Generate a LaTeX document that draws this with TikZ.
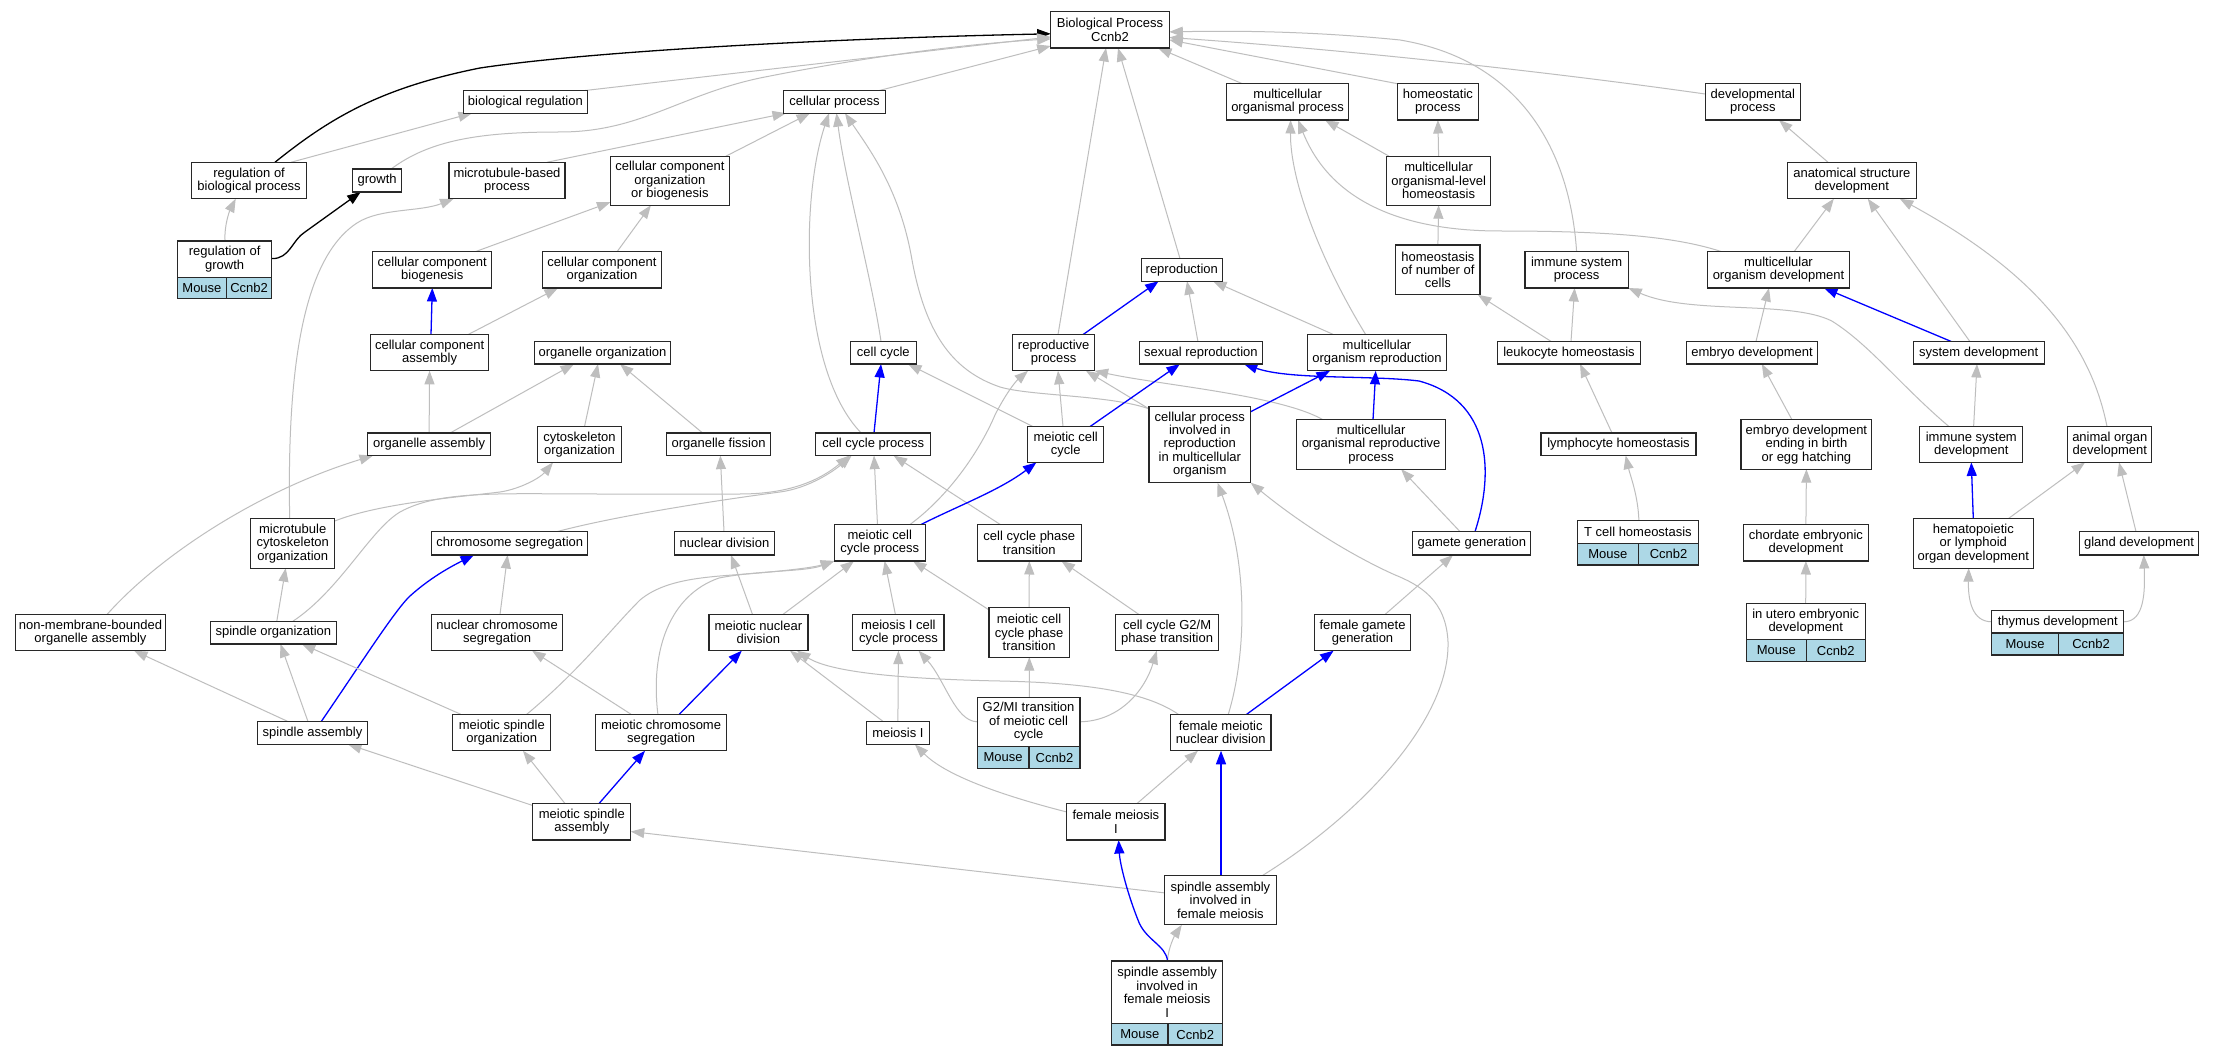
\documentclass[tikz,border=0pt]{standalone}
\usepackage{fontspec}
\setmainfont{Liberation Sans}
\usetikzlibrary{arrows.meta}
\definecolor{edgegray}{RGB}{190,190,190}
\definecolor{cellblue}{RGB}{173,216,230}
\definecolor{boxline}{RGB}{40,40,40}
\newcommand\gofont{\fontsize{13pt}{13.4pt}\selectfont}
\pgfdeclarelayer{bglayer}
\pgfdeclarelayer{edgelayer}
\pgfsetlayers{bglayer,edgelayer,main}
\tikzset{
  gobox/.style={draw=boxline, line width=1.2pt, fill=white, inner sep=0pt, outer sep=0pt, align=center, font=\gofont, text=black},
  gocell/.style={gobox, fill=cellblue},
  ge/.style={draw=edgegray, line width=1pt, -{Triangle[length=13.5pt,width=10pt]}},
  be/.style={ge, draw=blue, line width=1.3pt},
  ke/.style={ge, draw=black, line width=1.3pt},
}
\begin{document}
\begin{tikzpicture}[x=1pt,y=-1pt]
\begin{pgfonlayer}{bglayer}
\fill[white] (0,0) rectangle (2213,1056);
\end{pgfonlayer}
\useasboundingbox (0,0) rectangle (2213,1056);

% ---------- nodes ----------
\node[gobox, minimum width=118.6pt, minimum height=36.2pt] (bp) at (1110,29.9) {Biological Process\\Ccnb2};
\node[gobox, minimum width=124.3pt, minimum height=22.6pt] (bioreg) at (525.4,101.9) {biological regulation};
\node[gobox, minimum width=101.8pt, minimum height=22.6pt] (cellproc) at (834.5,101.9) {cellular process};
\node[gobox, minimum width=122.5pt, minimum height=36.2pt] (mop) at (1287.6,101.9) {multicellular\\organismal process};
\node[gobox, minimum width=81.5pt, minimum height=36.2pt] (homeo) at (1437.9,101.9) {homeostatic\\process};
\node[gobox, minimum width=95.3pt, minimum height=36.2pt] (devproc) at (1752.8,101.9) {developmental\\process};
\node[gobox, minimum width=114.6pt, minimum height=36.5pt] (regbio) at (249.1,180.5) {regulation of\\biological process};
\node[gobox, minimum width=48.6pt, minimum height=23pt] (growth) at (377.1,180.5) {growth};
\node[gobox, minimum width=116pt, minimum height=36.5pt] (mtbp) at (507,180.5) {microtubule-based\\process};
\node[gobox, minimum width=118.9pt, minimum height=49pt] (ccob) at (669.9,180.7) {cellular component\\organization\\or biogenesis};
\node[gobox, minimum width=104.3pt, minimum height=49pt] (molh) at (1438.6,180.7) {multicellular\\organismal-level\\homeostasis};
\node[gobox, minimum width=128.6pt, minimum height=36.5pt] (asd) at (1851.8,180.5) {anatomical structure\\development};
\node[gobox, minimum width=118.9pt, minimum height=36.2pt] (ccbio) at (432.3,269.9) {cellular component\\biogenesis};
\node[gobox, minimum width=118.9pt, minimum height=36.2pt] (ccorg) at (602,269.9) {cellular component\\organization};
\node[gobox, minimum width=81.4pt, minimum height=22.6pt] (reprod) at (1181.8,269.9) {reproduction};
\node[gobox, minimum width=84.3pt, minimum height=49.7pt] (hnc) at (1437.9,269.9) {homeostasis\\of number of\\cells};
\node[gobox, minimum width=103.2pt, minimum height=36.2pt] (isp) at (1576.6,269.9) {immune system\\process};
\node[gobox, minimum width=141.5pt, minimum height=36.2pt] (mod) at (1778.5,269.9) {multicellular\\organism development};
\node[gobox, minimum width=118.5pt, minimum height=36.2pt] (ccasm) at (429.6,352.7) {cellular component\\assembly};
\node[gobox, minimum width=136.4pt, minimum height=22.6pt] (orgorg) at (602.5,352.7) {organelle organization};
\node[gobox, minimum width=65.7pt, minimum height=22.6pt] (cellcycle) at (883.3,352.7) {cell cycle};
\node[gobox, minimum width=81.8pt, minimum height=36.2pt] (rproc) at (1053.7,352.7) {reproductive\\process};
\node[gobox, minimum width=123.2pt, minimum height=22.6pt] (sexrep) at (1200.9,352.7) {sexual reproduction};
\node[gobox, minimum width=138.9pt, minimum height=36.2pt] (mor) at (1377,352.7) {multicellular\\organism reproduction};
\node[gobox, minimum width=143.7pt, minimum height=22.6pt] (leukh) at (1569,352.7) {leukocyte homeostasis};
\node[gobox, minimum width=130.8pt, minimum height=22.6pt] (embdev) at (1752,352.7) {embryo development};
\node[gobox, minimum width=131.2pt, minimum height=22.6pt] (sysdev) at (1978.7,352.7) {system development};
\node[gobox, minimum width=122.5pt, minimum height=22.6pt] (orgasm) at (429.1,444.3) {organelle assembly};
\node[gobox, minimum width=84pt, minimum height=35.8pt] (cytoorg) at (579.5,444.5) {cytoskeleton\\organization};
\node[gobox, minimum width=104.3pt, minimum height=22.6pt] (orgfis) at (718.6,444.3) {organelle fission};
\node[gobox, minimum width=115pt, minimum height=22.6pt] (ccp) at (873.2,444.3) {cell cycle process};
\node[gobox, minimum width=75.7pt, minimum height=35.8pt] (mcc) at (1065.7,444.5) {meiotic cell\\cycle};
\node[gobox, minimum width=101.8pt, minimum height=76.4pt] (cpirmo) at (1199.8,444.5) {cellular process\\involved in\\reproduction\\in multicellular\\organism};
\node[gobox, minimum width=148.6pt, minimum height=49.4pt] (morp) at (1371.1,444.5) {multicellular\\organismal reproductive\\process};
\node[gobox, minimum width=155pt, minimum height=22.6pt] (lymphh) at (1618.5,444.3) {lymphocyte homeostasis};
\node[gobox, minimum width=130.9pt, minimum height=49.4pt] (edebeh) at (1806.4,444.5) {embryo development\\ending in birth\\or egg hatching};
\node[gobox, minimum width=102.9pt, minimum height=35.8pt] (isd) at (1971.3,444.5) {immune system\\development};
\node[gobox, minimum width=84pt, minimum height=35.8pt] (aod) at (2109.8,444.5) {animal organ\\development};
\node[gobox, minimum width=83.9pt, minimum height=49.3pt] (mtcyto) at (292.7,543.5) {microtubule\\cytoskeleton\\organization};
\node[gobox, minimum width=156pt, minimum height=23.4pt] (chromseg) at (509.8,543.3) {chromosome segregation};
\node[gobox, minimum width=100.4pt, minimum height=23.4pt] (nucdiv) at (724.5,543.3) {nuclear division};
\node[gobox, minimum width=91.1pt, minimum height=36.2pt] (mccp) at (879.8,542.9) {meiotic cell\\cycle process};
\node[gobox, minimum width=104.3pt, minimum height=36.2pt] (ccpt) at (1029.3,542.9) {cell cycle phase\\transition};
\node[gobox, minimum width=117.9pt, minimum height=23.4pt] (gamgen) at (1471.8,543.3) {gamete generation};
\node[gobox, minimum width=124.4pt, minimum height=36.2pt] (chordate) at (1805.9,542.9) {chordate embryonic\\development};
\node[gobox, minimum width=120.3pt, minimum height=49.3pt] (hema) at (1973.3,543.5) {hematopoietic\\or lymphoid\\organ development};
\node[gobox, minimum width=119.1pt, minimum height=23.4pt] (gland) at (2139,543.3) {gland development};
\node[gobox, minimum width=149.6pt, minimum height=36.2pt] (nmbo) at (90.5,632.6) {non-membrane-bounded\\organelle assembly};
\node[gobox, minimum width=125.4pt, minimum height=22.7pt] (spindleorg) at (273.4,632.6) {spindle organization};
\node[gobox, minimum width=130.7pt, minimum height=36.2pt] (ncs) at (497.1,632.6) {nuclear chromosome\\segregation};
\node[gobox, minimum width=99pt, minimum height=36.2pt] (mnd) at (758.4,632.6) {meiotic nuclear\\division};
\node[gobox, minimum width=91.1pt, minimum height=36.2pt] (micp) at (898.4,632.6) {meiosis I cell\\cycle process};
\node[gobox, minimum width=80.4pt, minimum height=49.3pt] (mccpt) at (1029.1,632.5) {meiotic cell\\cycle phase\\transition};
\node[gobox, minimum width=102.9pt, minimum height=36.2pt] (ccg2m) at (1167.1,632.6) {cell cycle G2/M\\phase transition};
\node[gobox, minimum width=96.4pt, minimum height=36.2pt] (fgg) at (1362.5,632.6) {female gamete\\generation};
\node[gobox, minimum width=110.7pt, minimum height=23pt] (spasm) at (312.5,732.8) {spindle assembly};
\node[gobox, minimum width=97.9pt, minimum height=36.5pt] (msorg) at (501.8,732.5) {meiotic spindle\\organization};
\node[gobox, minimum width=130.7pt, minimum height=36.5pt] (mcs) at (661.1,732.5) {meiotic chromosome\\segregation};
\node[gobox, minimum width=62.9pt, minimum height=23pt] (meiosisI) at (897.9,732.8) {meiosis I};
\node[gobox, minimum width=100.7pt, minimum height=36.5pt] (fmnd) at (1220.7,732.5) {female meiotic\\nuclear division};
\node[gobox, minimum width=97.9pt, minimum height=36.5pt] (msa) at (581.8,821.8) {meiotic spindle\\assembly};
\node[gobox, minimum width=98.2pt, minimum height=36.5pt] (fmI) at (1115.9,821.8) {female meiosis\\I};
\node[gobox, minimum width=111.4pt, minimum height=49pt] (saifm) at (1220.4,900.3) {spindle assembly\\involved in\\female meiosis};

% record nodes
\node[gobox, minimum width=94.3pt, minimum height=36.2pt] (rgr) at (224.65,259.1) {regulation of\\growth};
\node[gocell, minimum width=48.9pt, minimum height=21.6pt, anchor=north west] (rgr-m) at (rgr.south west) {Mouse};
\node[gocell, minimum width=45.4pt, minimum height=21.6pt, anchor=north east] (rgr-c) at (rgr.south east) {Ccnb2};

\node[gobox, minimum width=102.9pt, minimum height=49.2pt] (g2mi) at (1028.55,721.8) {G2/MI transition\\of meiotic cell\\cycle};
\node[gocell, minimum width=51.8pt, minimum height=22pt, anchor=north west] (g2mi-m) at (g2mi.south west) {Mouse};
\node[gocell, minimum width=51.1pt, minimum height=22pt, anchor=north east] (g2mi-c) at (g2mi.south east) {Ccnb2};

\node[gobox, minimum width=121.6pt, minimum height=22.7pt] (tcellh) at (1637.9,531.95) {T cell homeostasis};
\node[gocell, minimum width=61.4pt, minimum height=21.6pt, anchor=north west] (tcellh-m) at (tcellh.south west) {Mouse};
\node[gocell, minimum width=60.2pt, minimum height=21.6pt, anchor=north east] (tcellh-c) at (tcellh.south east) {Ccnb2};

\node[gobox, minimum width=118.8pt, minimum height=35.9pt] (iued) at (1805.7,621.45) {in utero embryonic\\development};
\node[gocell, minimum width=60.1pt, minimum height=21.9pt, anchor=north west] (iued-m) at (iued.south west) {Mouse};
\node[gocell, minimum width=58.7pt, minimum height=21.9pt, anchor=north east] (iued-c) at (iued.south east) {Ccnb2};

\node[gobox, minimum width=132pt, minimum height=22.4pt] (thymus) at (2057.8,621.8) {thymus development};
\node[gocell, minimum width=66.5pt, minimum height=22pt, anchor=north west] (thymus-m) at (thymus.south west) {Mouse};
\node[gocell, minimum width=65.5pt, minimum height=22pt, anchor=north east] (thymus-c) at (thymus.south east) {Ccnb2};

\node[gobox, minimum width=110.7pt, minimum height=62.7pt] (saifmI) at (1167.15,992.35) {spindle assembly\\involved in\\female meiosis\\I};
\node[gocell, minimum width=56.1pt, minimum height=21.3pt, anchor=north west] (saifmI-m) at (saifmI.south west) {Mouse};
\node[gocell, minimum width=54.6pt, minimum height=21.3pt, anchor=north east] (saifmI-c) at (saifmI.south east) {Ccnb2};

% ---------- edges ----------
\begin{pgfonlayer}{edgelayer}
\draw[ke] ([xshift=25.9pt]regbio.north) .. controls (330,118) and (380,88) .. (480,68) .. controls (600,50) and (850,38) .. ([yshift=-3.9pt]bp.west);
\draw[ge] ([xshift=42pt]regbio.north) -- ([xshift=-53.4pt]bioreg.south);
\draw[ge] ([xshift=14pt]growth.north) .. controls (430,140) and (480,132) .. (560,132) .. controls (640,132) and (680,95) .. (760,78) .. controls (850,60) and (950,45) .. ([yshift=-9pt]bp.west);
\draw[ge] ([xshift=59pt]bioreg.north) -- ([yshift=-7pt]bp.west);
\draw[ge] ([xshift=44.5pt]cellproc.north) -- ([yshift=2pt]bp.south west);
\draw[ge] ([xshift=40pt]mtbp.north) -- ([xshift=-48.5pt]cellproc.south);
\draw[ge] ([xshift=56pt]ccob.north) -- ([xshift=-24.5pt]cellproc.south);
\draw[ge] ([xshift=42.7pt]ccbio.north) -- ([yshift=3pt]ccob.south west);
\draw[ge] ([xshift=15pt]ccorg.north) -- ([xshift=-19pt]ccob.south);
\draw[be] ([xshift=1.4pt]ccasm.north) -- (ccbio.south);
\draw[ge] ([xshift=38.4pt]ccasm.north) -- ([xshift=-44pt]ccorg.south);
\draw[ge] (orgasm.north) -- (ccasm.south);
\draw[ge] ([xshift=21pt]orgasm.north) -- ([xshift=-28.5pt]orgorg.south);
\draw[ge] ([xshift=5pt]cytoorg.north) -- ([xshift=-4.5pt]orgorg.south);
\draw[ge] ([xshift=-16pt]orgfis.north) -- ([xshift=17.5pt]orgorg.south);
\draw[ge] ([xshift=-2.3pt]cellcycle.north) .. controls (872,280) and (845,180) .. ([xshift=2pt]cellproc.south);
\draw[ge] ([xshift=-12pt]ccp.north) .. controls (800,370) and (800,200) .. ([xshift=-5.5pt]cellproc.south);
\draw[ge] ([xshift=4.3pt]rproc.north) -- ([xshift=-4pt]bp.south);
\draw[ge] ([yshift=-2.5pt]cpirmo.north west) .. controls (1110,395) and (1030,396) .. (1000,387) .. controls (950,370) and (925,330) .. (912,260) .. controls (900,190) and (870,150) .. ([xshift=10.5pt]cellproc.south);
\draw[ge] ([yshift=-2.5pt]cpirmo.north west) -- ([xshift=32.3pt]rproc.south);
\draw[ge] ([xshift=-48pt]morp.north) .. controls (1280,395) and (1160,385) .. (rproc.south east);
\draw[ge] ([xshift=-32.7pt]mcc.north) -- ([xshift=24.7pt]cellcycle.south);
\draw[ge] ([xshift=-2.7pt]mcc.north) -- ([xshift=4.3pt]rproc.south);
\draw[be] ([xshift=24.3pt]mcc.north) -- ([xshift=-21pt]sexrep.south);
\draw[be] ([xshift=0.8pt]ccp.north) -- ([xshift=-2.3pt]cellcycle.south);
\draw[be] ([xshift=29.3pt]rproc.north) -- ([xshift=-23.2pt]reprod.south);
\draw[ge] ([xshift=-3pt]sexrep.north) -- ([xshift=5.2pt]reprod.south);
\draw[ge] ([xshift=-43.4pt]mor.north) -- ([xshift=31.2pt]reprod.south);
\draw[ge] ([xshift=-1.8pt]reprod.north) -- ([xshift=8pt]bp.south);
\draw[ge] ([xshift=-11.3pt]mor.north) .. controls (1320,260) and (1290,180) .. ([xshift=3pt]mop.south);
\draw[ge] ([xshift=-45pt]mop.north) -- ([xshift=48pt]bp.south);
\draw[ge] ([xshift=-40pt]homeo.north) -- ([yshift=-10pt]bp.east);
\draw[ge] (molh.north) -- (homeo.south);
\draw[ge] ([xshift=-49.6pt]molh.north) -- ([xshift=37.4pt]mop.south);
\draw[ge] (hnc.north) -- (molh.south);
\draw[ge] ([xshift=-18pt]leukh.north) -- ([xshift=40pt]hnc.south);
\draw[ge] ([xshift=2pt]leukh.north) -- ([xshift=-2pt]isp.south);
\draw[ge] ([xshift=-6.5pt]lymphh.north) -- ([xshift=11pt]leukh.south);
\draw[ge] ([xshift=1pt]tcellh.north) .. controls (1638,495) and (1630,475) .. ([xshift=7.2pt]lymphh.south);
\draw[ge] (isp.north) .. controls (1570,150) and (1520,60) .. (1400,40) .. controls (1300,30) and (1220,31) .. ([yshift=-2pt]bp.east);
\draw[ge] ([yshift=7.9pt]devproc.west) .. controls (1550,72) and (1350,50) .. ([yshift=-7.6pt]bp.east);
\draw[ge] ([xshift=-56.5pt]mod.north) .. controls (1680,238) and (1620,231) .. (1500,231) .. controls (1400,231) and (1330,200) .. ([xshift=10.4pt]mop.south);
\draw[ge] ([xshift=-23.8pt]asd.north) -- ([xshift=26.2pt]devproc.south);
\draw[ge] ([xshift=15.5pt]mod.north) -- ([xshift=-18pt]asd.south);
\draw[ge] ([xshift=-8.9pt]sysdev.north) -- ([xshift=16pt]asd.south);
\draw[ge] ([xshift=-2.8pt]aod.north) .. controls (2090,340) and (2030,270) .. ([xshift=48pt]asd.south);
\draw[be] ([xshift=-27.7pt]sysdev.north) -- ([xshift=45.5pt]mod.south);
\draw[ge] ([xshift=4pt]embdev.north) -- ([xshift=-9.5pt]mod.south);
\draw[ge] ([xshift=-22.3pt]isd.north) .. controls (1900,385) and (1870,345) .. (1831.8,321) .. controls (1790,300) and (1690,315) .. (isp.south east);
\draw[ge] ([xshift=2.3pt]isd.north) -- ([xshift=-1.7pt]sysdev.south);
\draw[ge] ([xshift=-14.4pt]edebeh.north) -- ([xshift=9.8pt]embdev.south);
\draw[ge] (chordate.north) -- (edebeh.south);
\draw[ge] (iued.north) -- (chordate.south);
\draw[be] (hema.north) -- (isd.south);
\draw[ge] ([xshift=34.7pt]hema.north) -- ([xshift=-24.8pt]aod.south);
\draw[ge] ([xshift=-3pt]gland.north) -- ([xshift=9.2pt]aod.south);
\draw[ge] (thymus.west) .. controls (1972,621.8) and (1968,600) .. ([xshift=-4.6pt]hema.south);
\draw[ge] (thymus.east) .. controls (2145,621.8) and (2145,590) .. ([xshift=4.8pt]gland.south);
\draw[ge] ([xshift=-3pt]mtcyto.north) .. controls (287,380) and (300,260) .. (357,223) .. controls (380,208) and (420,212) .. ([xshift=-53.4pt]mtbp.south);
\draw[ge] ([yshift=-2.2pt]mtcyto.north east) .. controls (380,503) and (460,497) .. (500,492) .. controls (520,489) and (540,478) .. ([xshift=-26.5pt]cytoorg.south);
\draw[ge] ([xshift=16.5pt]nmbo.north) .. controls (160,555) and (260,490) .. ([xshift=-56.1pt]orgasm.south);
\draw[ge] ([xshift=3.4pt]spindleorg.north) -- ([xshift=-7pt]mtcyto.south);
\draw[ge] ([xshift=19.5pt]spindleorg.north) .. controls (340,590) and (370,530) .. (400,512) .. controls (440,490) and (500,494) .. (600,494) -- (740,494) .. controls (790,494) and (820,480) .. ([xshift=-23.6pt]ccp.south);
\draw[ge] ([xshift=47.2pt]chromseg.north) .. controls (620,515) and (720,500) .. (780,492) .. controls (810,488) and (835,470) .. ([xshift=-21.6pt]ccp.south);
\draw[ge] ([xshift=-25pt]spasm.north) -- ([xshift=43.5pt]nmbo.south);
\draw[ge] ([xshift=-4.6pt]spasm.north) -- ([xshift=7pt]spindleorg.south);
\draw[be] ([xshift=8.9pt]spasm.north) .. controls (360,665) and (395,610) .. (410,596) .. controls (430,578) and (450,567) .. ([xshift=-35.8pt]chromseg.south);
\draw[ge] ([xshift=2.9pt]ncs.north) -- ([xshift=-2.2pt]chromseg.south);
\draw[ge] ([xshift=-41.1pt]msorg.north) -- ([xshift=28.4pt]spindleorg.south);
\draw[ge] ([xshift=25pt]msorg.north) .. controls (580,670) and (610,630) .. (640,600) .. controls (670,575) and (720,577) .. (770,572) .. controls (800,569) and (815,567) .. (mccp.south west);
\draw[ge] ([xshift=-3.2pt]mcs.north) .. controls (650,650) and (670,595) .. (719,578) .. controls (760,570) and (805,572) .. (mccp.south west);
\draw[ge] ([xshift=-30.1pt]mcs.north) -- ([xshift=35pt]ncs.south);
\draw[ge] ([xshift=-16.8pt]msa.north) -- ([xshift=21.2pt]msorg.south);
\draw[ge] ([yshift=-2pt]msa.north west) -- ([xshift=35.5pt]spasm.south);
\draw[be] ([xshift=17.2pt]msa.north) -- ([xshift=-16.1pt]mcs.south);
\draw[be] ([xshift=18.2pt]mcs.north) -- ([xshift=-16.6pt]mnd.south);
\draw[ge] ([xshift=-5.9pt]mnd.north) -- ([xshift=6.5pt]nucdiv.south);
\draw[ge] ([xshift=-0.5pt]nucdiv.north) -- ([xshift=1.7pt]orgfis.south);
\draw[ge] ([xshift=24.5pt]mnd.north) -- ([xshift=-25.8pt]mccp.south);
\draw[ge] ([xshift=-3pt]micp.north) -- ([xshift=4.8pt]mccp.south);
\draw[ge] ([yshift=-2pt]mccpt.north west) -- ([xshift=33.2pt]mccp.south);
\draw[ge] (mccpt.north) -- (ccpt.south);
\draw[ge] (meiosisI.north) -- (micp.south);
\draw[ge] ([xshift=-15pt]meiosisI.north) -- ([xshift=31.6pt]mnd.south);
\draw[ge] ([xshift=0.7pt]g2mi.north) -- ([xshift=0.2pt]mccpt.south);
\draw[ge] (g2mi.west) .. controls (955,721) and (945,680) .. ([xshift=20.2pt]micp.south);
\draw[ge] (g2mi.east) .. controls (1120,721) and (1145,690) .. ([xshift=-10.3pt]ccg2m.south);
\draw[ge] ([xshift=-42.4pt]fmnd.north) .. controls (1150,695) and (1100,683) .. (1000,681) .. controls (900,679) and (830,672) .. ([xshift=38.6pt]mnd.south);
\draw[ge] ([xshift=7.6pt]fmnd.north) .. controls (1245,660) and (1250,570) .. ([xshift=17.7pt]cpirmo.south);
\draw[be] ([xshift=26pt]fmnd.north) -- ([xshift=-28.9pt]fgg.south);
\draw[ge] ([xshift=41.6pt]saifm.north) .. controls (1360,815) and (1450,720) .. (1448,641.8) .. controls (1446,600) and (1420,585) .. (1394,574.5) .. controls (1340,550) and (1290,515) .. (cpirmo.south east);
\draw[ge] ([xshift=-11.8pt]gamgen.north) -- ([xshift=30pt]morp.south);
\draw[be] ([xshift=3.2pt]gamgen.north) .. controls (1495,470) and (1490,400) .. (1419,381) .. controls (1370,375) and (1290,380) .. ([xshift=43pt]sexrep.south);
\draw[be] ([xshift=1.9pt]morp.north) -- ([xshift=-1.3pt]mor.south);
\draw[be] ([yshift=-5.4pt]cpirmo.north east) -- ([xshift=-47pt]mor.south);
\draw[ge] ([xshift=22.5pt]fgg.north) -- ([xshift=-18.8pt]gamgen.south);
\draw[ge] ([xshift=21.1pt]fmI.north) -- ([xshift=-22.8pt]fmnd.south);
\draw[ge] ([yshift=9.8pt]fmI.west) .. controls (1000,795) and (945,775) .. ([xshift=17pt]meiosisI.south);
\draw[be] ([xshift=0.6pt]saifm.north) -- ([xshift=0.3pt]fmnd.south);
\draw[ge] ([yshift=7.4pt]saifm.west) -- ([yshift=-9.7pt]msa.east);
\draw[ge] ([xshift=0.4pt]saifmI.north) .. controls (1168,948) and (1175,935) .. ([xshift=-38.6pt]saifm.south);
\draw[be] ([xshift=0.4pt]saifmI.north) .. controls (1166,945) and (1145,940) .. (1138,920) .. controls (1128,895) and (1120,865) .. ([xshift=2.7pt]fmI.south);
\draw[ke] ([yshift=0.5pt]rgr.east) .. controls (290,259) and (292,240) .. (305,232) -- ([xshift=-16.4pt]growth.south);
\draw[ge] ([xshift=0.4pt]rgr.north) .. controls (224,225) and (230,210) .. ([xshift=-13.4pt]regbio.south);
\draw[ge] ([xshift=-28.6pt]ccpt.north) -- ([xshift=20.4pt]ccp.south);
\draw[ge] ([xshift=-2.3pt]mccp.north) -- ([xshift=0.8pt]ccp.south);
\draw[ge] ([xshift=29.8pt]mccp.north) .. controls (950,495) and (980,450) .. (995,415) .. controls (1005,395) and (1015,382) .. ([xshift=-25.7pt]rproc.south);
\draw[be] ([xshift=40.6pt]mccp.north) .. controls (960,505) and (1000,490) .. ([xshift=-29.3pt]mcc.south);
\draw[ge] ([xshift=-28.1pt]ccg2m.north) -- ([xshift=32.1pt]ccpt.south);
\end{pgfonlayer}
\end{tikzpicture}
\end{document}
